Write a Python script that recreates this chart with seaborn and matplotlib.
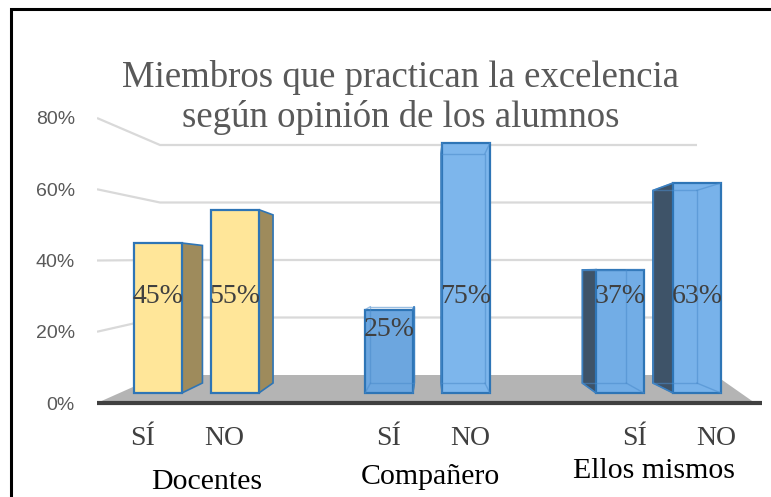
import numpy as np
import pandas as pd
import matplotlib
matplotlib.use("Agg")
import matplotlib.pyplot as plt
from matplotlib.patches import Polygon, Rectangle
import seaborn as sns

# data
groups = ["Docentes", "Compañero", "Ellos mismos"]
answers = ["SÍ", "NO"]
values = [[0.45, 0.55], [0.25, 0.75], [0.37, 0.63]]
yticks = [0, 0.2, 0.4, 0.6, 0.8]
title_lines = ["Miembros que practican la excelencia", "según opinión de los alumnos"]

# styles
face_colors = ["#FFE699", "#FFE699", "#6CA6DF", "#7DB6EC", "#72ADE6", "#78B2EA"]
side_colors = ["#9E8B5C", "#9E8B5C", "#4F7FB0", "#4F7FB0", "#3E5368", "#3E5368"]
edge_col = "#2E75B6"
bar_w = 0.62

rows = []
for g, grp in enumerate(groups):
    for a, ans in enumerate(answers):
        rows.append({"grupo": grp, "resp": ans, "valor": values[g][a],
                     "pos": 3 * g + a, "id": grp + "-" + ans})
df = pd.DataFrame(rows)

sns.set_theme(style="white")
plt.rcParams["font.family"] = ["Liberation Serif", "DejaVu Serif"]

fig = plt.figure(figsize=(7.71, 4.97), dpi=100)
ax = fig.add_axes([97 / 771, 77 / 497, 668 / 771, 310 / 497])
ax.patch.set_visible(False)

# fake 3d: one vanishing point for the bar depth
VP = np.array([3.53, 0.3615])
S = 0.917


def back(x, y):
    p = np.array([x, y])
    return VP + S * (p - VP)


def tick_y(v):
    # where the axis labels sit (front of the left wall)
    return -0.03 + 1.06875 * v


def wall_y(v):
    # same value on the back wall
    return 0.054 + 0.8625 * v


x_left, x_right = -0.792, 7.883
x_wall0, x_wall1 = 0.026, 7.0

# gridlines on the walls
for t in yticks[1:]:
    ax.plot([x_left, x_wall0, x_wall1], [tick_y(t), wall_y(t), wall_y(t)],
            color="#D9D9D9", lw=1.6, zorder=1, solid_capstyle="butt")

# floor
floor = Polygon([(x_left, tick_y(0)), (7.753, tick_y(0)), (7.234, wall_y(0)), (x_wall0, wall_y(0))],
                closed=True, fc="#B4B4B4", ec="none", zorder=1.5)
ax.add_patch(floor)
ax.plot([x_left, 7.85], [tick_y(0), tick_y(0)], color="#404040", lw=3, zorder=2,
        solid_capstyle="butt")

# side faces of the bars
for i, r in df.iterrows():
    xl, xr, v = r["pos"] - bar_w / 2, r["pos"] + bar_w / 2, r["valor"]
    edge = xr if xr < VP[0] else xl
    b0, b1 = back(edge, 0), back(edge, v)
    side = Polygon([(edge, 0), (edge, v), tuple(b1), tuple(b0)], closed=True,
                   fc=side_colors[i], ec=edge_col, lw=1.2, zorder=2.5)
    ax.add_patch(side)

sns.barplot(data=df, x="pos", y="valor", hue="id", palette=dict(zip(df["id"], face_colors)),
            native_scale=True, width=bar_w, dodge=False, legend=False, errorbar=None,
            saturation=1, edgecolor=edge_col, linewidth=1.6, ax=ax, zorder=3)

# see-through back edges of the blue bars
for i, r in df.iterrows():
    if r["grupo"] == "Docentes":
        continue
    xl, xr, v = r["pos"] - bar_w / 2, r["pos"] + bar_w / 2, r["valor"]
    corners = [(xl, 0), (xr, 0), (xr, v), (xl, v)]
    bc = [back(*c) for c in corners]
    bx = [c[0] for c in bc] + [bc[0][0]]
    by = [c[1] for c in bc] + [bc[0][1]]
    ax.plot(bx, by, color="#4A8BCB", lw=1, alpha=0.55, zorder=4)
    for c, b in zip(corners, bc):
        ax.plot([c[0], b[0]], [c[1], b[1]], color="#4A8BCB", lw=1, alpha=0.55, zorder=4)

# value labels
for i, r in df.iterrows():
    v = r["valor"]
    ax.text(r["pos"], min(0.29, v - 0.06), f"{round(v * 100)}%", ha="center", va="center",
            fontsize=20, color="#404040", zorder=6)

ax.set_xlim(x_left, x_right)
ax.set_ylim(-0.081, 0.849)

ax.set_yticks([tick_y(t) for t in yticks])
ax.set_yticklabels([f"{round(t * 100)}%" for t in yticks], family="Liberation Sans",
                   fontsize=14, color="#595959")
xc = 3.14
ax.set_xticks([xc + 1.065 * (p - xc) for p in df["pos"]])
ax.set_xticklabels(df["resp"], fontsize=20, color="#404040")
ax.tick_params(axis="y", length=0, pad=16)
ax.tick_params(axis="x", length=0, pad=4)
ax.set_xlabel("")
ax.set_ylabel("")
for s in ax.spines.values():
    s.set_visible(False)

# category names
for g, grp in enumerate(groups):
    gx = 3 * g + 0.5 + 0.13 - 0.095 * g
    ax.text(gx, -0.27 + 0.0055 * gx, grp, ha="center", va="center", fontsize=21.5,
            color="black", clip_on=False)

# title
fig.text(0.52, 1 - 87 / 497, title_lines[0], ha="center", va="baseline", fontsize=26.5,
         color="#595959")
fig.text(0.52, 1 - 127 / 497, title_lines[1], ha="center", va="baseline", fontsize=26.5,
         color="#595959")

# outer frame (cut off on the right and bottom like the source)
fig.add_artist(Rectangle((11 / 771, -0.1), 1.2, 1 - 9 / 497 + 0.1, transform=fig.transFigure,
                         fill=False, ec="black", lw=2.2))

fig.savefig("out.png", dpi=100)
